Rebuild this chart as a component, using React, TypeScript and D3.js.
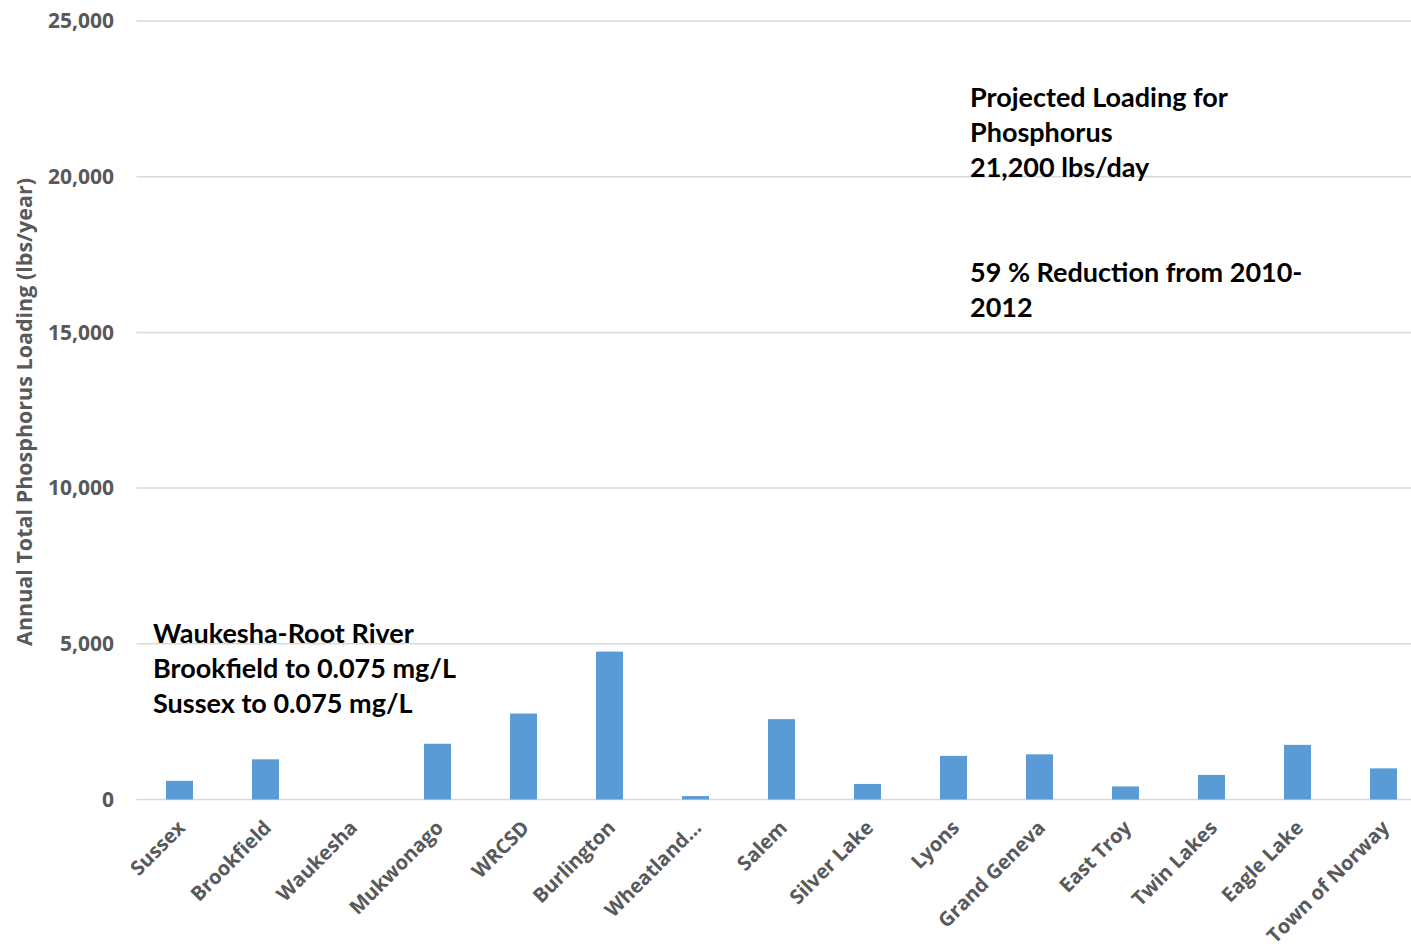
import * as d3 from "d3";
import { useEffect, useRef } from "react";

const plants = [
  "Sussex",
  "Brookfield",
  "Waukesha",
  "Mukwonago",
  "WRCSD",
  "Burlington",
  "Wheatland...",
  "Salem",
  "Silver Lake",
  "Lyons",
  "Grand Geneva",
  "East Troy",
  "Twin Lakes",
  "Eagle Lake",
  "Town of Norway",
];

// annual total phosphorus loading, lbs/year
const loading = [600, 1290, 0, 1790, 2760, 4750, 110, 2580, 500, 1400, 1450, 420, 790, 1755, 1000];

const yTicks = [0, 5000, 10000, 15000, 20000, 25000];

const leftNote = ["Waukesha-Root River", "Brookfield to 0.075 mg/L", "Sussex to 0.075 mg/L"];
const rightNote = ["Projected Loading for", "Phosphorus", "21,200 lbs/day", "", "", "59 % Reduction from 2010-", "2012"];

const App = () => {
  const svgRef = useRef<SVGSVGElement | null>(null);

  useEffect(() => {
    const svg = d3.select(svgRef.current);
    svg.selectAll("*").remove();

    const width = 1411;
    const height = 947;

    const x = d3
      .scaleBand<string>()
      .domain(plants)
      .range([136.5, 1426.5])
      .paddingInner(0.686)
      .paddingOuter(0.343);

    const y = d3.scaleLinear().domain([0, 25000]).range([799.5, 21]);

    svg.attr("width", width).attr("height", height);

    // gridlines
    svg
      .append("g")
      .selectAll("line")
      .data(yTicks)
      .join("line")
      .attr("x1", 136.5)
      .attr("x2", 1426.5)
      .attr("y1", (d) => y(d))
      .attr("y2", (d) => y(d))
      .attr("stroke", "#d9d9d9")
      .attr("stroke-width", 1.5);

    // y tick labels
    svg
      .append("g")
      .selectAll("text")
      .data(yTicks)
      .join("text")
      .attr("x", 114)
      .attr("y", (d) => y(d))
      .attr("dy", "0.35em")
      .attr("text-anchor", "end")
      .attr("font-family", "'Open Sans', sans-serif")
      .attr("font-weight", 700)
      .attr("font-size", 21)
      .attr("fill", "#595959")
      .text((d) => d3.format(",")(d));

    // bars
    svg
      .append("g")
      .selectAll("rect")
      .data(loading)
      .join("rect")
      .attr("x", (d, i) => x(plants[i]) as number)
      .attr("width", x.bandwidth())
      .attr("y", (d) => y(d))
      .attr("height", (d) => y(0) - y(d))
      .attr("fill", "#5b9bd5");

    // x labels
    svg
      .append("g")
      .selectAll("text")
      .data(plants)
      .join("text")
      .attr("transform", (d) => `translate(${(x(d) as number) + x.bandwidth() / 2 + 7},829) rotate(-45)`)
      .attr("text-anchor", "end")
      .attr("font-family", "'Open Sans', sans-serif")
      .attr("font-weight", 700)
      .attr("font-size", 20)
      .attr("fill", "#595959")
      .text((d) => d);

    // y axis title
    svg
      .append("text")
      .attr("transform", "translate(32,412) rotate(-90)")
      .attr("text-anchor", "middle")
      .attr("font-family", "'Open Sans', sans-serif")
      .attr("font-weight", 700)
      .attr("font-size", 21.5)
      .attr("fill", "#595959")
      .text("Annual Total Phosphorus Loading (lbs/year)");

    // annotations
    const note = (lines: string[], x0: number, y0: number) => {
      svg
        .append("g")
        .selectAll("text")
        .data(lines)
        .join("text")
        .attr("x", x0)
        .attr("y", (d, i) => y0 + i * 35)
        .attr("font-family", "Lato, sans-serif")
        .attr("font-weight", 700)
        .attr("font-size", 27)
        .attr("fill", "#000")
        .text((d) => d);
    };
    note(leftNote, 153, 643);
    note(rightNote, 970, 107);
  }, []);

  return <svg ref={svgRef} style={{ position: "absolute", left: 0, top: 0 }}></svg>;
};

export default App;
